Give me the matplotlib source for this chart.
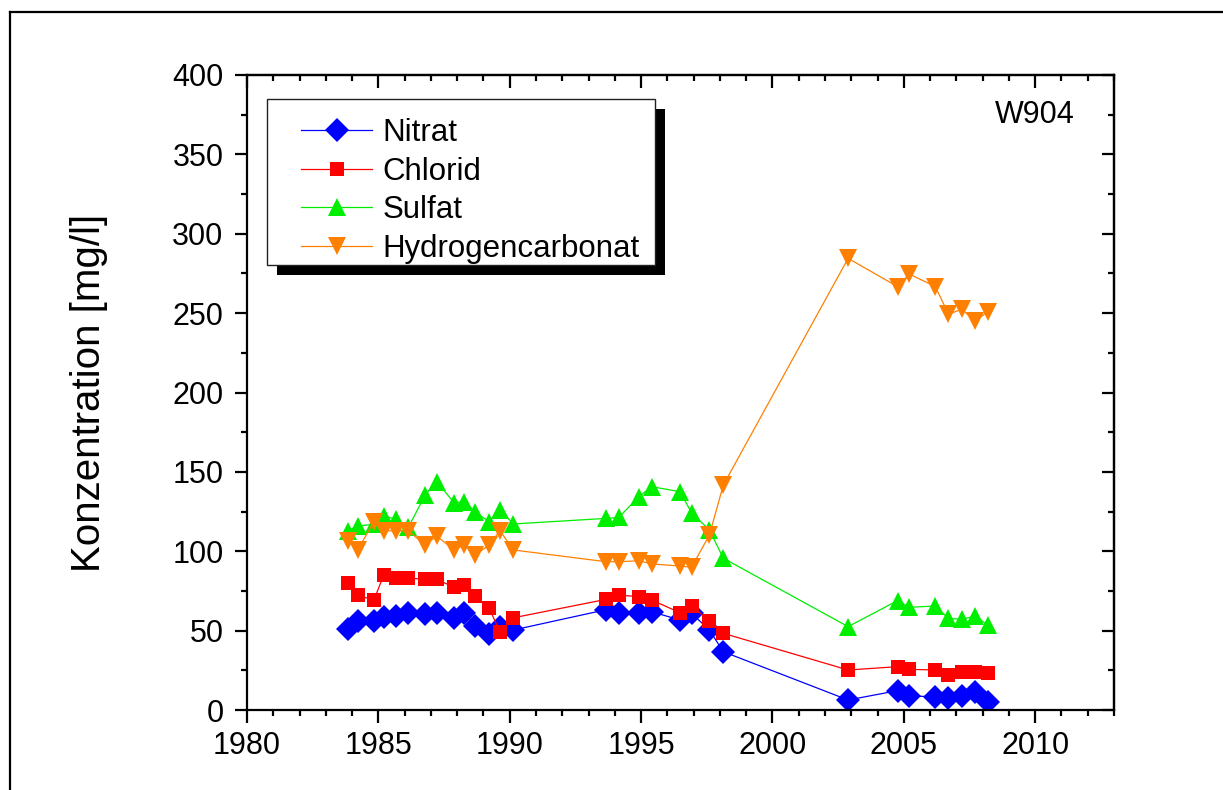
import matplotlib
matplotlib.use("Agg")
import matplotlib.pyplot as plt
from matplotlib.ticker import MultipleLocator
from matplotlib.legend_handler import HandlerLine2D
from matplotlib.patches import Rectangle
from matplotlib.lines import Line2D

plt.rcParams['font.family'] = ['Liberation Sans', 'DejaVu Sans']

# Sampling dates (decimal years) shared by all four parameters
dates = [1983.83, 1984.21, 1984.83, 1985.21, 1985.66, 1986.14, 1986.78, 1987.22,
         1987.88, 1988.26, 1988.69, 1989.21, 1989.63, 1990.14, 1993.67, 1994.15,
         1994.92, 1995.40, 1996.48, 1996.92, 1997.60, 1998.13, 2002.88, 2004.76,
         2005.21, 2006.20, 2006.70, 2007.21, 2007.71, 2008.20]

nitrat = [50.8, 56.3, 56.3, 58.4, 59.4, 60.9, 60.5, 60.9, 58.1, 61.3, 53.1, 47.7,
          52.0, 50.4, 63.2, 60.9, 60.9, 61.9, 56.7, 60.9, 50.4, 36.7, 6.3, 12.2,
          8.8, 8.4, 7.3, 8.8, 11.5, 5.2]
chlorid = [80.2, 72.2, 69.3, 85.2, 83.1, 83.1, 82.3, 82.3, 77.3, 78.7, 72.0, 64.3,
           49.3, 58.1, 69.7, 72.4, 71.4, 69.3, 61.3, 65.5, 56.3, 48.3, 25.2, 27.3,
           25.6, 25.2, 22.0, 24.1, 24.1, 23.1]
sulfat = [112.9, 115.9, 117.0, 122.2, 120.1, 115.0, 135.4, 143.8, 130.6, 131.2,
          124.9, 118.6, 126.0, 117.2, 120.7, 121.3, 134.4, 140.7, 137.5, 124.3,
          113.4, 95.6, 52.5, 68.9, 64.7, 65.5, 57.7, 57.1, 59.2, 53.5]
hydrogencarbonat = [106.6, 100.8, 118.6, 112.9, 112.9, 112.9, 103.9, 109.6, 100.8,
                    103.9, 97.6, 103.9, 112.9, 100.8, 93.4, 93.4, 94.0, 92.0, 90.7,
                    89.9, 110.2, 141.7, 284.5, 266.7, 274.6, 266.7, 249.4, 252.4,
                    245.0, 250.9]

series_labels = ['Nitrat', 'Chlorid', 'Sulfat', 'Hydrogencarbonat']
series_values = [nitrat, chlorid, sulfat, hydrogencarbonat]
series_colors = ['#0000FF', '#FF0000', '#00EE00', '#FF8000']
series_markers = ['D', 's', '^', 'v']
series_msize = [12, 10.5, 13.5, 13.5]

station = 'W904'
ylabel = 'Konzentration [mg/l]'

W, H = 1223, 790
fig = plt.figure(figsize=(W / 100, H / 100), dpi=100)

# outer frame (top and left edges)
fig.add_artist(Line2D([10 / W, 10 / W], [0, 1 - 12 / H], color='black', lw=1.6,
                      transform=fig.transFigure))
fig.add_artist(Line2D([10 / W, 1], [1 - 12 / H, 1 - 12 / H], color='black', lw=1.6,
                      transform=fig.transFigure))

ax_px = (247, 75, 1114, 710)          # left, top, right, bottom in pixels
ax_w, ax_h = ax_px[2] - ax_px[0], ax_px[3] - ax_px[1]
ax = fig.add_axes([ax_px[0] / W, 1 - ax_px[3] / H, ax_w / W, ax_h / H])

for vals, lab, col, mk, ms in zip(series_values, series_labels, series_colors,
                                  series_markers, series_msize):
    ax.plot(dates, vals, color=col, lw=0.9, marker=mk, markersize=ms,
            markeredgewidth=0, label=lab)

ax.set_xlim(1980, 2013)
ax.set_ylim(0, 400)
ax.xaxis.set_major_locator(MultipleLocator(5))
ax.xaxis.set_minor_locator(MultipleLocator(1))
ax.yaxis.set_major_locator(MultipleLocator(50))
ax.yaxis.set_minor_locator(MultipleLocator(25))

for s in ax.spines.values():
    s.set_linewidth(1.6)

ax.tick_params(which='both', labelsize=22, width=1.6)
ax.tick_params(which='major', length=9)
ax.tick_params(which='minor', length=4.5)
ax.tick_params(axis='x', which='both', direction='out', pad=6)
ax.tick_params(axis='y', which='both', direction='out', pad=8)

# inward ticks on the top and right edges
sec_x = ax.secondary_xaxis('top')
sec_x.xaxis.set_major_locator(MultipleLocator(5))
sec_x.xaxis.set_minor_locator(MultipleLocator(1))
sec_x.tick_params(which='both', direction='in', labeltop=False, width=1.6)
sec_x.tick_params(which='major', length=9)
sec_x.tick_params(which='minor', length=4.5)
sec_x.spines['top'].set_linewidth(1.6)
sec_y = ax.secondary_yaxis('right')
sec_y.yaxis.set_major_locator(MultipleLocator(50))
sec_y.yaxis.set_minor_locator(MultipleLocator(25))
sec_y.tick_params(which='both', direction='in', labelright=False, width=1.6)
sec_y.tick_params(which='major', length=9)
sec_y.tick_params(which='minor', length=4.5)
sec_y.spines['right'].set_linewidth(1.6)

ax.set_ylabel(ylabel, fontsize=29, labelpad=46)

ax.text(0.955, 0.937, station, transform=ax.transAxes, ha='right', va='center',
        fontsize=22)

# legend box with a hard black drop shadow (axes fractions)
box_x0, box_x1 = 20 / ax_w, 408 / ax_w
box_y1, box_y0 = 1 - 24 / ax_h, 1 - 190 / ax_h
sh_dx, sh_dy = 10 / ax_w, 10 / ax_h
ax.add_patch(Rectangle((box_x0 + sh_dx, box_y0 - sh_dy), box_x1 - box_x0,
                       box_y1 - box_y0, transform=ax.transAxes, facecolor='black',
                       edgecolor='none', zorder=5.4))
ax.add_patch(Rectangle((box_x0, box_y0), box_x1 - box_x0, box_y1 - box_y0,
                       transform=ax.transAxes, facecolor='white',
                       edgecolor='#222222', linewidth=1.0, zorder=5.5))

leg = ax.legend(loc='upper left', bbox_to_anchor=(box_x0, box_y1),
                borderaxespad=0, fontsize=22.5, frameon=False, borderpad=0.62,
                labelspacing=0.27, handlelength=2.75, handletextpad=0.33,
                handler_map={Line2D: HandlerLine2D(xpad=0.48)})
leg.set_zorder(6)

fig.savefig('out.png', dpi=100)
